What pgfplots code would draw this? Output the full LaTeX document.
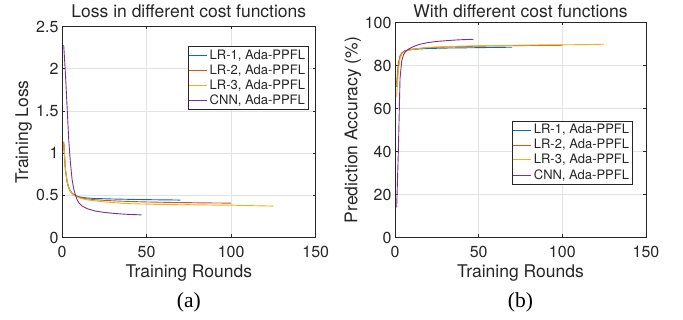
\documentclass[border=0pt]{standalone}
\usepackage{pgfplots}
\pgfplotsset{compat=1.18}
\usepackage{fontspec}
\setmainfont{Liberation Serif}
\newfontfamily\helv{TeX Gyre Heros}
\definecolor{mblue}{rgb}{0,0.447,0.741}
\definecolor{morange}{rgb}{0.85,0.325,0.098}
\definecolor{myellow}{rgb}{0.929,0.694,0.125}
\definecolor{mpurple}{rgb}{0.494,0.184,0.556}
\definecolor{axgray}{rgb}{0.15,0.15,0.15}
\pgfplotsset{
  mstyle/.style={
    scale only axis, xmin=0, xmax=150, xtick={0,50,100,150},
    axis line style={axgray, line width=0.6pt},
    tick style={axgray, line width=0.5pt}, tick align=inside, major tick length=3pt,
    grid=major, grid style={gray!22, line width=0.5pt},
    /pgf/number format/assume math mode=true,
    every tick label/.append style={font=\helv\fontsize{16}{18}\selectfont, text=axgray},
    xticklabel style={anchor=base, yshift=-20.3pt},
    label style={font=\helv\fontsize{17.5}{20}\selectfont, text=axgray},
    title style={font=\helv\fontsize{17.5}{20}\selectfont, text=axgray, at={(axis description cs:0.5,1)}, anchor=base},
    xlabel style={at={(axis description cs:0.5,0)}, anchor=base, yshift=-40.3pt},
    legend style={font=\helv\fontsize{13}{15}\selectfont, draw=axgray, line width=0.5pt, anchor=north west,
      inner xsep=1pt, inner ysep=1.5pt, row sep=0pt, text=axgray},
    legend cell align=left,
    legend image code/.code={\draw[#1, line width=0.9pt] (0pt,0pt) -- (18pt,0pt);},
    every axis plot/.append style={line width=0.9pt},
  }
}
\begin{document}
\begin{tikzpicture}
\useasboundingbox (0,0) rectangle (683pt,320pt);
\begin{axis}[mstyle, at={(62pt,82.5pt)}, anchor=south west, width=253.7pt, height=211pt,
  ymin=0, ymax=2.5, ytick={0,0.5,1,1.5,2,2.5},
  title={Loss in different cost functions}, title style={yshift=2.7pt},
  xlabel={Training Rounds}, ylabel={Training Loss},
  ylabel style={at={(axis description cs:-0.134,0.5)}, anchor=base},
  legend style={at={(axis description cs:0.495,0.908)}}]
\addplot[draw=mblue] coordinates {(1,1.13)(2,0.81)(3,0.665)(4,0.59)(5,0.55)(6,0.525)(7,0.51)(8,0.50)(9,0.49)(10,0.483)(12,0.475)(14,0.47)(16,0.466)(20,0.462)(25,0.459)(30,0.456)(35,0.454)(40,0.452)(45,0.45)(50,0.449)(55,0.447)(60,0.446)(65,0.445)(70,0.443)};
\addlegendentry{LR-1, Ada-PPFL}
\addplot[draw=morange] coordinates {(1,1.12)(2,0.80)(3,0.66)(4,0.585)(5,0.545)(6,0.52)(7,0.505)(8,0.495)(9,0.485)(10,0.478)(12,0.468)(14,0.46)(16,0.455)(20,0.447)(25,0.44)(30,0.435)(35,0.43)(40,0.427)(45,0.424)(50,0.421)(55,0.419)(60,0.417)(65,0.415)(70,0.414)(75,0.413)(80,0.411)(85,0.41)(90,0.409)(95,0.408)(100,0.407)};
\addlegendentry{LR-2, Ada-PPFL}
\addplot[draw=myellow] coordinates {(1,1.14)(2,0.81)(3,0.665)(4,0.585)(5,0.545)(6,0.52)(7,0.5)(8,0.49)(9,0.48)(10,0.47)(12,0.458)(14,0.45)(16,0.443)(18,0.438)(20,0.433)(23,0.427)(26,0.42)(30,0.414)(33,0.41)(36,0.404)(40,0.401)(45,0.398)(50,0.396)(55,0.393)(60,0.392)(65,0.39)(70,0.388)(75,0.389)(80,0.386)(85,0.386)(90,0.384)(95,0.383)(100,0.384)(105,0.38)(110,0.378)(115,0.376)(120,0.374)(125,0.372)};
\addlegendentry{LR-3, Ada-PPFL}
\addplot[draw=mpurple] coordinates {(1,2.28)(2,1.95)(3,1.55)(4,1.15)(5,0.88)(6,0.68)(7,0.57)(8,0.5)(9,0.445)(10,0.41)(12,0.37)(15,0.34)(20,0.312)(25,0.297)(30,0.287)(35,0.279)(40,0.273)(47,0.268)};
\addlegendentry{CNN, Ada-PPFL}
\end{axis}
\node[font=\fontsize{21.5}{24}\selectfont, anchor=base] at (188.9pt,12pt) {(a)};

\begin{axis}[mstyle, at={(395pt,82.5pt)}, anchor=south west, width=251pt, height=215pt,
  ymin=0, ymax=100, ytick={0,20,40,60,80,100},
  title={With different cost functions}, title style={yshift=-0.6pt},
  xlabel={Training Rounds}, ylabel={Prediction Accuracy (\%)},
  ylabel style={at={(axis description cs:-0.15,0.5)}, anchor=base},
  legend style={at={(axis description cs:0.465,0.543)}}]
\addplot[draw=mblue] coordinates {(1,70)(2,80)(3,84)(4,85.5)(5,86.2)(6,86.7)(8,87.1)(10,87.4)(15,87.7)(20,87.9)(30,88.1)(40,88.2)(50,88.3)(60,88.4)(70,88.5)};
\addlegendentry{LR-1, Ada-PPFL}
\addplot[draw=morange] coordinates {(1,72)(2,81)(3,84.5)(4,85.8)(5,86.4)(6,86.9)(8,87.3)(10,87.6)(15,88)(20,88.3)(30,88.6)(40,88.8)(50,89)(60,89.1)(70,89.2)(80,89.3)(90,89.3)(100,89.4)};
\addlegendentry{LR-2, Ada-PPFL}
\addplot[draw=myellow] coordinates {(1,65.5)(2,78)(3,83.5)(4,85.3)(5,86)(6,86.5)(8,87)(10,87.4)(15,88)(20,88.4)(30,88.8)(40,89.0)(50,89.2)(60,89.3)(70,89.4)(80,89.5)(90,89.6)(100,89.6)(110,89.7)(120,89.8)(125,89.9)};
\addlegendentry{LR-3, Ada-PPFL}
\addplot[draw=mpurple] coordinates {(1,14)(2,40)(3,74)(4,82)(5,84.8)(6,86.2)(7,87)(8,87.6)(10,88.4)(12,89.1)(15,89.9)(20,90.7)(25,91.2)(30,91.5)(35,91.8)(40,92)(47,92.2)};
\addlegendentry{CNN, Ada-PPFL}
\end{axis}
\node[font=\fontsize{21.5}{24}\selectfont, anchor=base] at (520.5pt,12pt) {(b)};
\end{tikzpicture}
\end{document}
